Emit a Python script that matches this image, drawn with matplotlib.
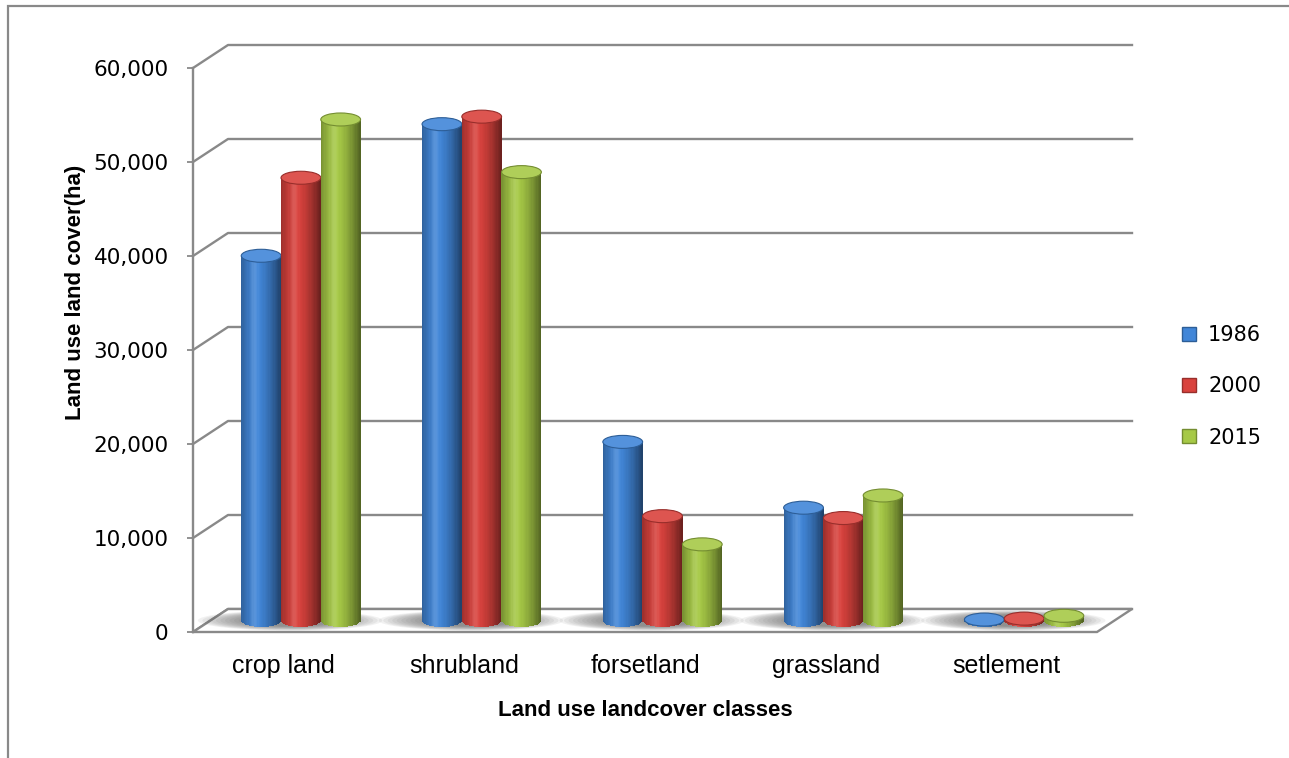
import matplotlib

matplotlib.use("Agg")

import matplotlib.pyplot as plt
import numpy as np
from matplotlib.colors import to_rgb
from matplotlib.lines import Line2D
from matplotlib.patches import Ellipse, Polygon, Rectangle

# data (hectares)
categories = ["crop land", "shrubland", "forsetland", "grassland", "setlement"]
years = ["1986", "2000", "2015"]
area_1986 = [38800, 52800, 19000, 12000, 100]
area_2000 = [47100, 53600, 11100, 10900, 200]
area_2015 = [53300, 47700, 8100, 13300, 500]
y_ticks = [0, 10000, 20000, 30000, 40000, 50000, 60000]

SERIES_COLORS = ["#4186d8", "#d9423d", "#a6c946"]
GRID = "#898989"
LABEL_FONT = ["Liberation Sans", "DejaVu Sans"]

FIG_W, FIG_H, DPI = 12.89, 7.58, 100
W_PX, H_PX = FIG_W * DPI, FIG_H * DPI

BACK_DEPTH = (35, 23)  # oblique offset of the back wall, pixels
BAR_WIDTH = 0.22
CAP_PX = 13
N_SLICES = 32


def shaded(color, pos):
    """Cylinder shading across the bar, pos in [-1, 1]."""
    base = np.array(to_rgb(color))
    t = (pos + 1) / 2
    k = 1 - 0.52 * (np.abs(t - 0.4) / 0.6) ** 1.5
    rgb = base[None, :] * k[:, None]
    spec = 0.13 * np.exp(-(((t - 0.33) / 0.09) ** 2))
    rgb = rgb * (1 - spec[:, None]) + spec[:, None]
    return np.clip(rgb, 0, 1)


fig = plt.figure(figsize=(FIG_W, FIG_H), dpi=DPI)
ax = fig.add_axes([193 / W_PX, (H_PX - 632) / H_PX, 904 / W_PX, 564 / H_PX])
n_cat = len(categories)
ax.set_xlim(0, n_cat)
ax.set_ylim(y_ticks[0], y_ticks[-1])

box = ax.get_position()
px_x = n_cat / (box.width * W_PX)
px_y = (y_ticks[-1] - y_ticks[0]) / (box.height * H_PX)
back_dx, back_dy = BACK_DEPTH[0] * px_x, BACK_DEPTH[1] * px_y
mid_dx, mid_dy = back_dx / 2, back_dy / 2
cap_h = CAP_PX * px_y

# back wall and side wall gridlines
for v in y_ticks:
    ax.plot([0, back_dx, n_cat + back_dx], [v, v + back_dy, v + back_dy],
            color=GRID, lw=1.7, clip_on=False, zorder=1)

# floor
floor = Polygon([(0, 0), (n_cat, 0), (n_cat + back_dx, back_dy), (back_dx, back_dy)],
                closed=True, fc="white", ec=GRID, lw=1.7, clip_on=False, zorder=2)
ax.add_patch(floor)

# soft shadows under each cluster
for i in range(n_cat):
    cx = i + 0.5 + mid_dx - 0.06
    for k in range(12):
        ax.add_patch(Ellipse((cx, mid_dy), 1.02 - k * 0.05, cap_h * (1.55 - k * 0.06),
                             fc="#555555", ec="none", alpha=0.08,
                             clip_on=False, zorder=3))

# cylinders
series = [area_1986, area_2000, area_2015]
edges = np.linspace(-1, 1, N_SLICES + 1)
pos = (edges[:-1] + edges[1:]) / 2
for i in range(n_cat):
    for j, values in enumerate(series):
        v = values[i]
        xc = i + 0.5 + mid_dx + (j - 1) * BAR_WIDTH
        xs = xc + pos * BAR_WIDTH / 2
        curve = cap_h / 2 * np.sqrt(1 - pos ** 2)
        z = 4 + i * 0.1 + j * 0.01
        ax.bar(xs, v + curve, width=BAR_WIDTH / N_SLICES * 1.2, bottom=mid_dy - curve,
               color=shaded(SERIES_COLORS[j], pos), lw=0, clip_on=False, zorder=z)
        base = np.array(to_rgb(SERIES_COLORS[j]))
        top = base * 0.9 + 0.1
        ax.add_patch(Ellipse((xc, v + mid_dy), BAR_WIDTH, cap_h, fc=top,
                             ec=base * 0.7, lw=0.8, clip_on=False, zorder=z + 0.005))

# axes styling
for side in ["top", "right", "bottom"]:
    ax.spines[side].set_visible(False)
ax.spines["left"].set_color(GRID)
ax.spines["left"].set_linewidth(1.7)
ax.set_facecolor("none")
ax.set_yticks(y_ticks, labels=[f"{v:,}" for v in y_ticks])
ax.tick_params(axis="y", length=4.5, width=1.3, color=GRID, pad=13, labelsize=15.5)
ax.set_xticks(np.arange(n_cat) + 0.5, labels=categories)
ax.tick_params(axis="x", length=0, pad=16, labelsize=18)
for lab in ax.get_xticklabels():
    lab.set_family(LABEL_FONT)

fig.text(76 / W_PX, 1 - 292 / H_PX, "Land use land cover(ha)", rotation=90,
         ha="center", va="center", fontsize=16, fontweight="bold", family=LABEL_FONT)
fig.text(645 / W_PX, 1 - 711 / H_PX, "Land use landcover classes",
         ha="center", va="center", fontsize=16, fontweight="bold", family=LABEL_FONT)

handles = [Line2D([], [], marker="s", ls="none", markersize=10, mfc=c,
                  mec=np.array(to_rgb(c)) * 0.7, mew=1.0) for c in SERIES_COLORS]
fig.legend(handles, years, loc="upper left", bbox_to_anchor=(1180 / W_PX, 1 - 325 / H_PX),
           frameon=False, fontsize=15, labelspacing=1.5, handlelength=0.9,
           handletextpad=0.45, borderaxespad=0, borderpad=0)

# outer chart frame (runs off the right and bottom edges)
fig.add_artist(Rectangle((8 / W_PX, -0.1), 1.2, 1.1 - 6 / H_PX, transform=fig.transFigure,
                         fill=False, ec=GRID, lw=1.6))

fig.savefig("out.png", dpi=DPI)
plt.close(fig)
